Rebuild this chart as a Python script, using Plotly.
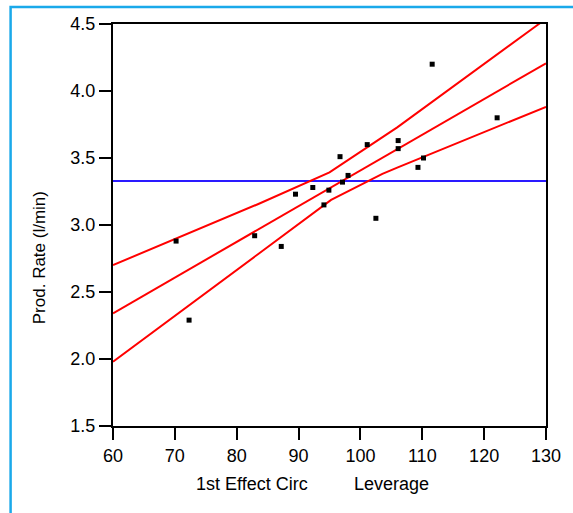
import plotly.graph_objects as go

# Observed leverage points
lev_x = [70.2, 72.3, 82.9, 87.2, 89.5, 92.3, 94.1, 94.9, 96.7, 97.1, 98.0,
         101.1, 102.5, 106.1, 106.1, 109.3, 110.2, 111.6, 122.1]
lev_y = [2.88, 2.29, 2.92, 2.84, 3.23, 3.28, 3.15, 3.26, 3.51, 3.32, 3.37,
         3.60, 3.05, 3.63, 3.57, 3.43, 3.50, 4.20, 3.80]

# Fitted line and confidence curves
fit_x = [60, 130]
fit_y = [2.341, 4.207]
upper_x = [60, 83.5, 95.0, 105.95, 128.4, 130]
upper_y = [2.701, 3.157, 3.393, 3.729, 4.485, 4.539]
lower_x = [60, 83.5, 95.26, 103.55, 105.95, 130]
lower_y = [1.980, 2.784, 3.187, 3.381, 3.428, 3.882]

# Mean line
mean_x = [60, 130]
mean_y = [3.328, 3.328]

x_ticks = [60, 70, 80, 90, 100, 110, 120, 130]
y_ticks = [1.5, 2.0, 2.5, 3.0, 3.5, 4.0, 4.5]
y_tick_labels = ["1.5", "2.0", "2.5", "3.0", "3.5", "4.0", "4.5"]

FONT = "Liberation Sans, Arial, sans-serif"

fig = go.Figure()
fig.add_trace(go.Scatter(x=mean_x, y=mean_y, mode="lines",
                         line=dict(color="#2a1aff", width=2), hoverinfo="skip"))
fig.add_trace(go.Scatter(x=upper_x, y=upper_y, mode="lines",
                         line=dict(color="#ff0000", width=2)))
fig.add_trace(go.Scatter(x=fit_x, y=fit_y, mode="lines",
                         line=dict(color="#ff0000", width=2)))
fig.add_trace(go.Scatter(x=lower_x, y=lower_y, mode="lines",
                         line=dict(color="#ff0000", width=2)))
fig.add_trace(go.Scatter(x=lev_x, y=lev_y, mode="markers",
                         marker=dict(symbol="square", size=5, color="black",
                                     line=dict(width=0)),
                         cliponaxis=False))

axis_common = dict(showline=True, linecolor="black", linewidth=2, mirror=True,
                   ticks="outside", ticklen=12, tickwidth=2, tickcolor="black",
                   showgrid=False, zeroline=False)

fig.update_xaxes(range=[60, 130], tickvals=x_ticks,
                 tickfont=dict(family=FONT, size=18, color="black"), **axis_common)
fig.update_yaxes(range=[1.5, 4.5], tickvals=y_ticks, ticktext=y_tick_labels,
                 tickfont=dict(family=FONT, size=18, color="black"), **axis_common)

fig.add_annotation(text="1st Effect Circ", xref="paper", yref="paper",
                   x=0.321, y=-0.145, xanchor="center", yanchor="middle",
                   showarrow=False, font=dict(family=FONT, size=18, color="black"))
fig.add_annotation(text="Leverage", xref="paper", yref="paper",
                   x=0.643, y=-0.145, xanchor="center", yanchor="middle",
                   showarrow=False, font=dict(family=FONT, size=18, color="black"))
fig.add_annotation(text="Prod. Rate (l/min)", xref="paper", yref="paper",
                   x=-0.168, y=0.418, xanchor="center", yanchor="middle",
                   textangle=-90, showarrow=False,
                   font=dict(family=FONT, size=17, color="black"))

fig.add_shape(type="rect", xref="paper", yref="paper",
              x0=-0.2365, x1=1.3, y0=-0.4, y1=1.0423,
              line=dict(color="#1aa9ea", width=2.5), fillcolor="rgba(0,0,0,0)",
              layer="below")

fig.update_layout(width=573, height=513,
                  margin=dict(l=113, r=23, t=24, b=87, pad=0),
                  paper_bgcolor="white", plot_bgcolor="white",
                  showlegend=False)

fig.write_html("out.html")
